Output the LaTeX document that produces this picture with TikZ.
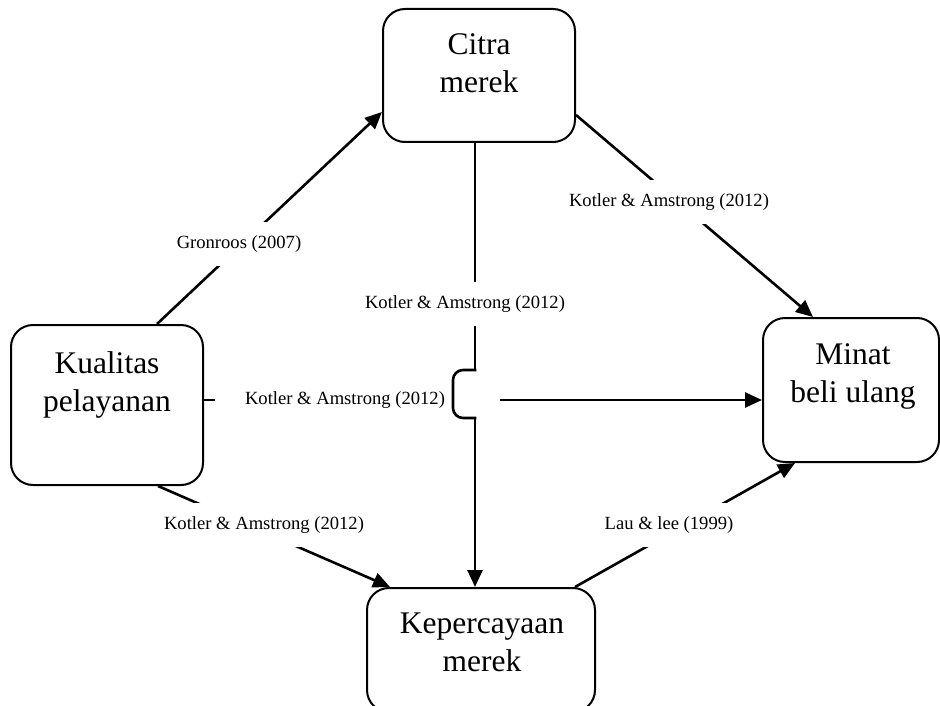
\documentclass[tikz,border=0pt]{standalone}
\usepackage{fontspec}
\setmainfont{Liberation Serif}
\usetikzlibrary{arrows.meta}
\begin{document}
\begin{tikzpicture}[x=1pt,y=-1pt,
  box/.style={draw, line width=2pt, rounded corners=22pt, inner sep=0pt},
  boxtext/.style={anchor=north, inner sep=0pt, align=center, font=\fontsize{31.5}{38}\selectfont},
  lbl/.style={fill=white, inner xsep=2pt, inner ysep=0pt, minimum height=44pt, font=\fontsize{18.6}{22}\selectfont},
  conn/.style={line width=2.6pt},
  arr/.style={conn, -{Triangle[length=17pt,width=15pt]}},
]
\useasboundingbox (0,0) rectangle (940,706);

% boxes
\node[box, minimum width=192pt, minimum height=133pt] (ct) at (479,75.5) {};
\node[box, minimum width=192pt, minimum height=160pt] (kq) at (107,405) {};
\node[box, minimum width=176pt, minimum height=144pt] (mn) at (851,390) {};
\node[box, minimum width=228pt, minimum height=124pt] (kp) at (481,650) {};

% box texts
\node[boxtext] (ct-t) at (479,33.5) {Citra\\merek};
\node[boxtext] (kq-t) at (107,351.5) {Kualitas\\pelayanan};
\node[boxtext] (mn-t) at (853,343.5) {Minat\\beli ulang};
\node[boxtext] (kp-t) at (482,612.5) {Kepercayaan\\merek};

% coordinates
\coordinate (hl) at (215,400);
\coordinate (hr) at (500,400);
\coordinate (va) at (475,370);
\coordinate (vb) at (475,418);
\coordinate (ha) at (453,370);
\coordinate (hb) at (453,418);

% connectors
\draw[arr] ([xshift=50pt]kq.north) -- ([yshift=-36.5pt]ct.west);
\draw[arr] ([yshift=-39.5pt]ct.east) -- ([xshift=-38pt]mn.north);
\draw[arr] ([xshift=51pt]kq.south) -- ([xshift=-91pt]kp.north);
\draw[arr] ([xshift=94pt]kp.north) -- ([xshift=-56pt]mn.south);
\draw[conn] ([yshift=5pt]kq.east) -- (hl);
\draw[arr] (hr) -- (mn.west |- hr);
\draw[conn] (va |- ct.south) -- (va);
\draw[conn, line cap=rect, rounded corners=10pt] (va) -- (ha) -- (hb) -- (vb);
\draw[arr] (vb) -- (vb |- kp.north);

% labels
\node[lbl] (l1) at (239,244) {Gronroos (2007)};
\node[lbl] (l2) at (669,202) {Kotler \& Amstrong (2012)};
\node[lbl] (l3) at (465,304) {Kotler \& Amstrong (2012)};
\node[lbl, fill=none] (l4) at (345,400) {Kotler \& Amstrong (2012)};
\node[lbl] (l5) at (264,525) {Kotler \& Amstrong (2012)};
\node[lbl] (l6) at (669,525) {Lau \& lee (1999)};
\end{tikzpicture}
\end{document}
